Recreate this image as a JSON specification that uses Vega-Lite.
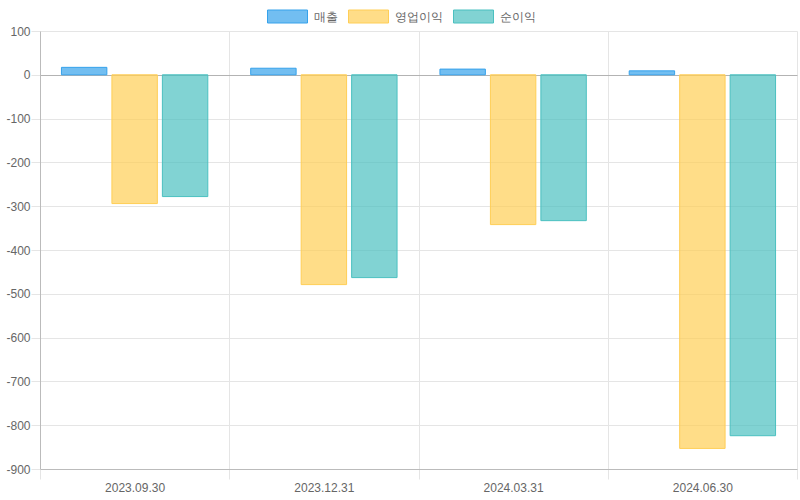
{
  "$schema": "https://vega.github.io/schema/vega-lite/v6.json",
  "autosize": "none",
  "width": 757,
  "height": 438,
  "padding": {"left": 40, "top": 31, "right": 3, "bottom": 31},
  "background": "white",
  "config": {
    "view": {"stroke": null},
    "font": "Liberation Sans",
    "axis": {"labelFont": "Liberation Sans", "labelFontSize": 12, "labelColor": "#666666", "title": null}
  },
  "data": {
    "values": [
      {"date": "2023.09.30", "series": "매출", "value": 17},
      {"date": "2023.09.30", "series": "영업이익", "value": -294},
      {"date": "2023.09.30", "series": "순이익", "value": -278},
      {"date": "2023.12.31", "series": "매출", "value": 15},
      {"date": "2023.12.31", "series": "영업이익", "value": -479},
      {"date": "2023.12.31", "series": "순이익", "value": -463},
      {"date": "2024.03.31", "series": "매출", "value": 13},
      {"date": "2024.03.31", "series": "영업이익", "value": -342},
      {"date": "2024.03.31", "series": "순이익", "value": -333},
      {"date": "2024.06.30", "series": "매출", "value": 9},
      {"date": "2024.06.30", "series": "영업이익", "value": -853},
      {"date": "2024.06.30", "series": "순이익", "value": -824}
    ]
  },
  "mark": {"type": "bar", "strokeWidth": 1},
  "encoding": {
    "x": {
      "field": "date", "type": "nominal",
      "scale": {"paddingInner": 0, "paddingOuter": 0},
      "axis": {
        "labelAngle": 0, "tickBand": "extent", "tickSize": 10, "tickColor": "#e5e5e5",
        "grid": true, "gridColor": "#e5e5e5", "domainColor": "#bbbbbb", "labelPadding": 3
      }
    },
    "xOffset": {
      "field": "series", "type": "nominal",
      "scale": {"domain": ["매출", "영업이익", "순이익"], "paddingInner": 0.1, "paddingOuter": 0.425}
    },
    "y": {
      "field": "value", "type": "quantitative",
      "scale": {"domain": [-900, 100], "nice": false, "zero": false},
      "axis": {
        "values": [100, 0, -100, -200, -300, -400, -500, -600, -700, -800, -900],
        "labelExpr": "'' + datum.value",
        "tickSize": 9, "tickColor": "#e5e5e5", "labelPadding": 1,
        "grid": true,
        "gridColor": {"condition": {"test": "datum.value === 0", "value": "#b3b3b3"}, "value": "#e5e5e5"},
        "domainColor": "#bbbbbb"
      }
    },
    "fill": {
      "field": "series", "type": "nominal",
      "scale": {"domain": ["매출", "영업이익", "순이익"], "range": ["rgba(54,162,235,0.7)", "rgba(255,206,86,0.7)", "rgba(75,192,192,0.7)"]},
      "legend": {
        "title": null, "orient": "none", "direction": "horizontal", "legendX": 227, "legendY": -35,
        "symbolType": "M-1,-0.325H1V0.325H-1Z", "symbolSize": 1600, "symbolStrokeWidth": 1,
        "labelFont": "Liberation Sans", "labelFontSize": 12, "labelColor": "#666666",
        "labelOffset": 6, "columnPadding": 8
      }
    },
    "stroke": {
      "field": "series", "type": "nominal",
      "scale": {"domain": ["매출", "영업이익", "순이익"], "range": ["rgb(54,162,235)", "rgb(255,206,86)", "rgb(75,192,192)"]},
      "legend": {
        "title": null, "orient": "none", "direction": "horizontal", "legendX": 227, "legendY": -35,
        "symbolType": "M-1,-0.325H1V0.325H-1Z", "symbolSize": 1600, "symbolStrokeWidth": 1,
        "labelFont": "Liberation Sans", "labelFontSize": 12, "labelColor": "#666666",
        "labelOffset": 6, "columnPadding": 8
      }
    }
  }
}
